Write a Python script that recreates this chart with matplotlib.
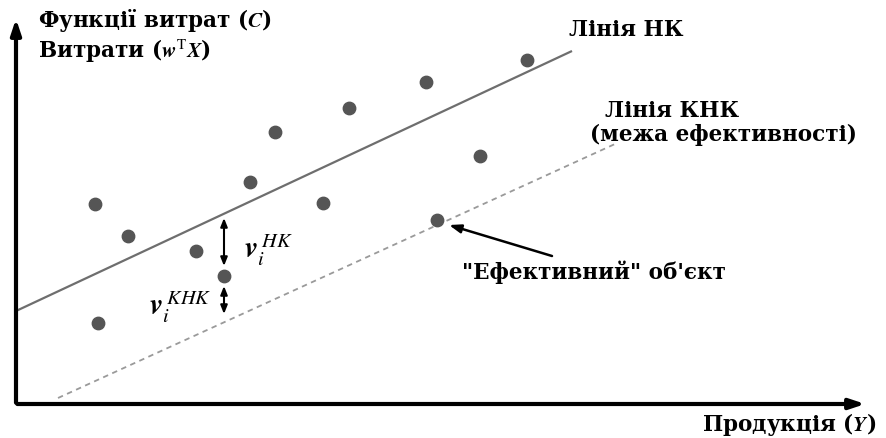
import matplotlib.pyplot as plt

plt.rcParams['font.family'] = ['DejaVu Serif']

# спостереження: продукція (Y) та витрати (C), координати
output_y = [79, 112, 82, 180, 208, 234, 259, 307, 333, 410, 464, 511]
cost_c = [200, 168, 81, 153, 128, 222, 272, 201, 296, 322, 248, 344]
eff_y, eff_c = 421, 184  # "ефективний" об'єкт

# лінія НК (звичайні найменші квадрати)
hk_x = [0, 556]
hk_c = [93, 353]
# лінія КНК (межа ефективності)
khk_x = [42, 599]
khk_c = [6, 260]

# відхилення для одного об'єкта
dev_x = 208
hk_dev = [186, 138]
khk_dev = [118, 90]

fig = plt.figure(figsize=(8.87, 4.39), dpi=100)
ax = fig.add_axes([0, 0, 1, 1])
ax.set_xlim(-16, 871)
ax.set_ylim(-34, 405)
ax.axis('off')

# осі зі стрілками
ax.annotate('', xy=(0, 388), xytext=(0, -1.5),
            arrowprops=dict(arrowstyle='-|>,head_length=0.9,head_width=0.3', color='black', lw=3))
ax.annotate('', xy=(852, 0), xytext=(-1.5, 0),
            arrowprops=dict(arrowstyle='-|>,head_length=0.9,head_width=0.3', color='black', lw=3))

ax.plot(hk_x, hk_c, color='#6e6e6e', lw=1.6, solid_capstyle='butt')
ax.plot(khk_x, khk_c, color='#9a9a9a', lw=1.3, ls=(0, (3, 2.5)))

ax.scatter(output_y, cost_c, s=80, color='#555555', zorder=3)
ax.scatter([eff_y], [eff_c], s=80, color='#555555', zorder=3)

ax.annotate('', xy=(dev_x, hk_dev[0]), xytext=(dev_x, hk_dev[1]),
            arrowprops=dict(arrowstyle='<|-|>,head_length=0.5,head_width=0.2', color='black', lw=1.5,
                            shrinkA=0, shrinkB=0))
ax.annotate('', xy=(dev_x, khk_dev[0]), xytext=(dev_x, khk_dev[1]),
            arrowprops=dict(arrowstyle='<|-|>,head_length=0.5,head_width=0.2', color='black', lw=1.5,
                            shrinkA=0, shrinkB=0))

ax.text(228, 155, r'$\boldsymbol{v}_{i}^{\;HK}$', fontsize=21, ha='left', va='center',
        math_fontfamily='stix')
ax.text(133, 98, r'$\boldsymbol{v}_{i}^{\;KHK}$', fontsize=21, ha='left', va='center',
        math_fontfamily='stix')

fs = 15.5
ax.annotate('', xy=(eff_y + 12, eff_c - 5), xytext=(536, 148),
            arrowprops=dict(arrowstyle='-|>,head_length=0.7,head_width=0.25', color='black', lw=1.8,
                            shrinkA=0, shrinkB=0))
ax.text(446, 133, '"Ефективний" об\'єкт', fontsize=fs, fontweight='bold', ha='left', va='center')

ax.text(553, 375, 'Лінія НК', fontsize=fs, fontweight='bold', ha='left', va='center')
ax.text(589, 294, 'Лінія КНК', fontsize=fs, fontweight='bold', ha='left', va='center')
ax.text(574, 270, '(межа ефективності)', fontsize=fs, fontweight='bold', ha='left', va='center')

ax.text(22, 385, 'Функції витрат ($\\boldsymbol{C}$)', fontsize=fs, fontweight='bold', ha='left', va='center',
        math_fontfamily='stix')
ax.text(22, 355, 'Витрати ($\\boldsymbol{w}^{\\mathrm{T}}\\boldsymbol{X}$)', fontsize=fs, fontweight='bold',
        ha='left', va='center', math_fontfamily='stix')
ax.text(860, -20, 'Продукція ($\\boldsymbol{Y}$)', fontsize=fs, fontweight='bold', ha='right', va='center',
        math_fontfamily='stix')

fig.savefig('out.png', dpi=100)
